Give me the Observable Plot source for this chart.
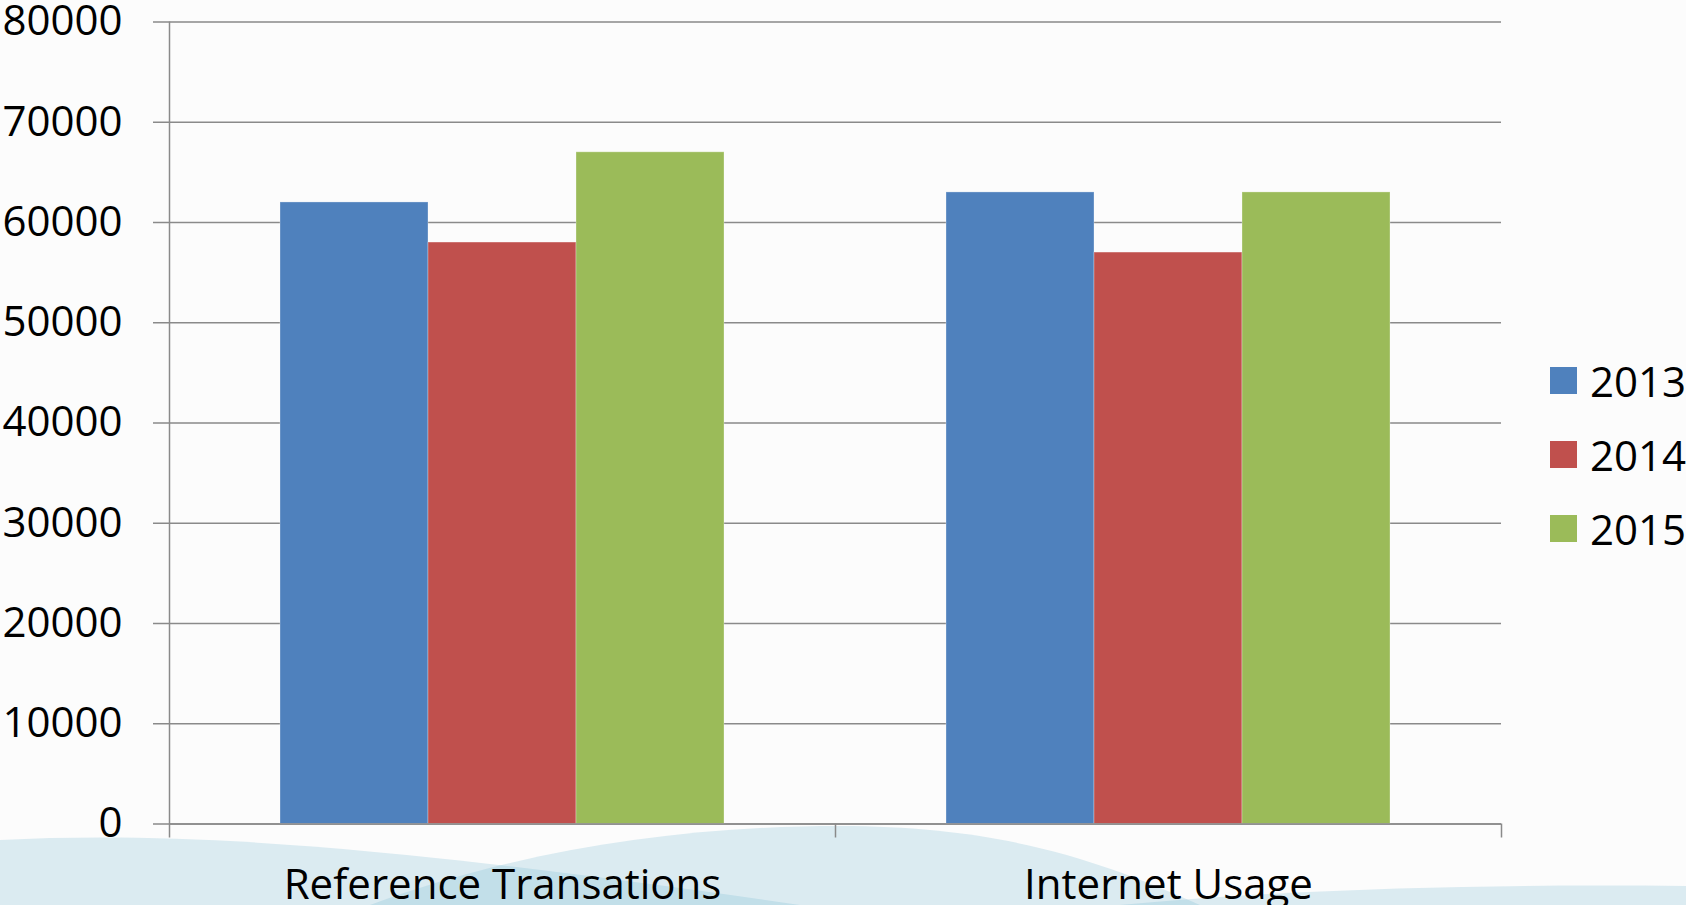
<!DOCTYPE html>
<html><head><meta charset="utf-8">
<script src="https://cdn.jsdelivr.net/npm/d3@7"></script>
<script src="https://cdn.jsdelivr.net/npm/@observablehq/plot@0.6"></script>
<style>
html,body{margin:0;padding:0;background:#fcfcfc;overflow:hidden;}
#wrap{position:relative;width:1686px;height:905px;font-family:"Open Sans",sans-serif;}
#wave{position:absolute;left:0;top:0;}
#chart{position:absolute;left:0;top:0;}
#legend{position:absolute;left:1550px;top:343px;}
.row{display:flex;align-items:center;height:74.3px;font-size:42px;color:#000;white-space:nowrap;}
.sw{width:27px;height:27px;margin-right:13px;flex:none;}
</style></head><body>
<div id="wrap">
<svg id="wave" width="1686" height="905" viewBox="0 0 1686 905">
  <g fill="rgb(115,184,211)" fill-opacity="0.24">
    <path d="M0,840 C200,830 420,850 800,905 L0,905 Z"/>
    <path d="M370,905 C520,850 680,826 840,826 C1000,826 1100,860 1200,905 Z"/>
    <path d="M1120,905 C1300,888 1500,884 1686,886 L1686,905 Z"/>
  </g>
</svg>
<div id="chart"></div>
<div id="legend"></div>
</div>
<script>
// ---- data ----
const categories = ["Reference Transations", "Internet Usage"];
const years = ["2013", "2014", "2015"];
const values2013 = [62000, 63000];
const values2014 = [58000, 57000];
const values2015 = [67000, 63000];
const yTicks = [0, 10000, 20000, 30000, 40000, 50000, 60000, 70000, 80000];
const yearColors = ["#4f81bd", "#c0504d", "#9bbb59"];

const seriesByYear = [values2013, values2014, values2015];
const rows = [];
categories.forEach((c, i) => years.forEach((y, j) => rows.push({category: c, year: y, value: seriesByYear[j][i]})));

// ---- layout ----
const W = 1530, H = 905;
const mL = 169, mR = 29, mT = 21.5, mB = 81.5;
const pad = 0.75;
const facetW = (W - mL - mR) / categories.length;
const step = facetW / (years.length + 2 * pad);
const edgeDx = step * (pad + 0.5);
const gridColor = "#8a8a8a";

const chart = Plot.plot({
  width: W, height: H,
  marginLeft: mL, marginRight: mR, marginTop: mT, marginBottom: mB,
  style: {fontFamily: "Open Sans", background: "transparent", color: "#000", overflow: "visible"},
  fx: {domain: categories, padding: 0, label: null},
  x: {domain: years, paddingInner: 0, paddingOuter: pad, axis: null},
  y: {domain: [0, 80000]},
  color: {domain: years, range: yearColors},
  marks: [
    Plot.gridY(yTicks, {stroke: gridColor, strokeOpacity: 1, strokeWidth: 1.5}),
    Plot.barY(rows, {fx: "category", x: "year", y: "value", fill: "year", stroke: "white", strokeOpacity: 0.3, strokeWidth: 1}),
    Plot.ruleY([0], {stroke: gridColor, strokeWidth: 1.5}),
    Plot.ruleX([categories[0]], {fx: d => d, x: () => years[0], dx: -edgeDx, y1: () => 80000, y2: () => 0, insetBottom: -14, stroke: gridColor, strokeWidth: 1.5}),
    Plot.ruleX(categories.slice(1), {fx: d => d, x: () => years[0], dx: -edgeDx, y1: () => 0, y2: () => 0, insetBottom: -14, stroke: gridColor, strokeWidth: 1.5}),
    Plot.ruleX([categories[categories.length - 1]], {fx: d => d, x: () => years[years.length - 1], dx: edgeDx, y1: () => 0, y2: () => 0, insetBottom: -14, stroke: gridColor, strokeWidth: 1.5}),
    Plot.axisY({ticks: yTicks, tickSize: 16, tickPadding: 31, fontSize: 42, stroke: gridColor, strokeWidth: 1.5, label: null, tickFormat: d3.format("d")}),
    Plot.axisFx({anchor: "bottom", tickSize: 0, tickPadding: 45, fontSize: 42, label: null})
  ]
});
document.getElementById("chart").appendChild(chart);

// ---- legend from the color scale ----
const cs = chart.scale("color");
const legend = document.getElementById("legend");
cs.domain.forEach((d, i) => {
  const row = document.createElement("div");
  row.className = "row";
  const sw = document.createElement("span");
  sw.className = "sw";
  sw.style.background = cs.range[i];
  row.appendChild(sw);
  row.appendChild(document.createTextNode(d));
  legend.appendChild(row);
});
</script>
</body></html>
